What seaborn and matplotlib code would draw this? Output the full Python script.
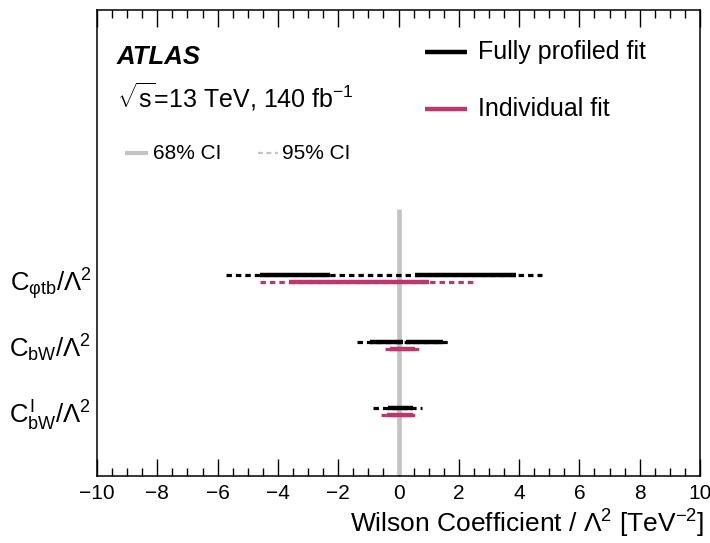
import matplotlib
matplotlib.use("Agg")
import matplotlib.pyplot as plt
from matplotlib.lines import Line2D
from matplotlib.ticker import MultipleLocator
import numpy as np
import pandas as pd
import seaborn as sns

# Operators, bottom to top
operators = [r"$C_{bW}^{I}/\Lambda^{2}$", r"$C_{bW}/\Lambda^{2}$", r"$C_{\varphi tb}/\Lambda^{2}$"]

# Fully profiled fit: 68% CI (possibly disjoint) and 95% CI intervals
profiled_68 = [[(-0.35, 0.48)], [(-0.95, 0.15), (0.25, 1.47)], [(-4.59, -2.27), (0.55, 3.90)]]
profiled_95 = [[(-0.84, 0.78)], [(-1.38, 1.71)], [(-5.72, 4.77)]]

# Individual fit intervals
individual_68 = [[(-0.38, 0.48)], [(-0.28, 0.55)], [(-3.64, 1.00)]]
individual_95 = [[(-0.58, 0.65)], [(-0.45, 0.78)], [(-4.59, 2.52)]]

fit_names = ["Fully profiled fit", "Individual fit"]
colors = {"Fully profiled fit": "black", "Individual fit": "#B83A6C"}
offsets = {"Fully profiled fit": 0.0, "Individual fit": -0.105}
grey = "#C4C4C4"


def segments(intervals, fit, ci):
    rows = []
    for i, ivs in enumerate(intervals):
        for j, (lo, hi) in enumerate(ivs):
            unit = f"{fit}-{ci}-{i}-{j}"
            y = i + 1 + offsets[fit]
            rows.append(dict(x=lo, y=y, fit=fit, ci=ci, unit=unit))
            rows.append(dict(x=hi, y=y, fit=fit, ci=ci, unit=unit))
    return rows


df95 = pd.DataFrame(segments(profiled_95, fit_names[0], "95% CI")
                    + segments(individual_95, fit_names[1], "95% CI"))
df68 = pd.DataFrame(segments(profiled_68, fit_names[0], "68% CI")
                    + segments(individual_68, fit_names[1], "68% CI"))

sns.set_theme(style="ticks")
plt.rcParams["font.family"] = ["Liberation Sans", "DejaVu Sans"]
plt.rcParams["mathtext.fontset"] = "custom"
plt.rcParams["mathtext.rm"] = "Liberation Sans"
plt.rcParams["mathtext.it"] = "Liberation Sans"
plt.rcParams["mathtext.bf"] = "Liberation Sans:bold"
for key in ["text.color", "axes.labelcolor", "xtick.color", "ytick.color", "axes.edgecolor"]:
    plt.rcParams[key] = "black"

fig = plt.figure(figsize=(7.1, 5.43), dpi=100)
ax = fig.add_axes([97 / 710, 67 / 543, 603 / 710, 466 / 543])

# Zero reference line
ax.plot([0, 0], [0, 3.99], color=grey, lw=3.4, zorder=1, solid_capstyle="butt")

sns.lineplot(data=df95, x="x", y="y", hue="fit", units="unit", estimator=None,
             sort=False, palette=colors, lw=2.3, legend=False, ax=ax, zorder=2)
for ln in ax.lines[1:]:
    ln.set_dashes((1.7, 1.25))
    ln.set_dash_capstyle("butt")
n_before = len(ax.lines)
sns.lineplot(data=df68, x="x", y="y", hue="fit", units="unit", estimator=None,
             sort=False, palette=colors, lw=3.2, legend=False, ax=ax, zorder=3)
for ln in ax.lines[n_before:]:
    ln.set_solid_capstyle("butt")

ax.set_xlim(-10, 10)
ax.set_ylim(-0.02, 6.98)
ax.xaxis.set_major_locator(MultipleLocator(2))
ax.xaxis.set_minor_locator(MultipleLocator(0.5))
ax.tick_params(axis="x", which="both", direction="in", top=True, bottom=True,
               labelsize=15, width=1.0, pad=6)
ax.tick_params(axis="x", which="major", length=12)
ax.tick_params(axis="x", which="minor", length=6)
ax.set_yticks([0.95, 1.95, 2.95])
ax.set_yticklabels(operators, fontsize=18.5)
ax.tick_params(axis="y", which="both", length=0, pad=4)
for s in ax.spines.values():
    s.set_linewidth(1.1)
ax.set_xlabel(r"Wilson Coefficient / $\Lambda^{2}$ [TeV$^{-2}$]", fontsize=19,
              ha="right", x=1.008, labelpad=3)
ax.set_ylabel("")

# Header texts
tr = ax.transAxes
ax.text(0.033, 0.899, "ATLAS", transform=tr, fontsize=18.5,
        fontweight="bold", fontstyle="italic", va="center")
ax.text(0.033, 0.813, r"$\sqrt{s}$=13 TeV, 140 fb$^{-1}$", transform=tr,
        fontsize=18, va="center")

# Legend for the fits
for f, yy in zip(fit_names, [0.910, 0.787]):
    ax.add_line(Line2D([0.544, 0.614], [yy, yy], transform=tr, color=colors[f],
                       lw=3.2, solid_capstyle="butt"))
    ax.text(0.632, yy, f, transform=tr, fontsize=18, va="center")

# Legend for the interval styles
ax.add_line(Line2D([0.046, 0.085], [0.693, 0.693], transform=tr, color=grey,
                   lw=3.0, solid_capstyle="butt"))
ax.text(0.093, 0.693, "68% CI", transform=tr, fontsize=15, va="center")
ax.add_line(Line2D([0.267, 0.300], [0.693, 0.693], transform=tr, color=grey,
                   lw=1.6, dashes=(2.2, 1.6), dash_capstyle="butt"))
ax.text(0.307, 0.693, "95% CI", transform=tr, fontsize=15, va="center")

fig.savefig("out.png", dpi=100)
